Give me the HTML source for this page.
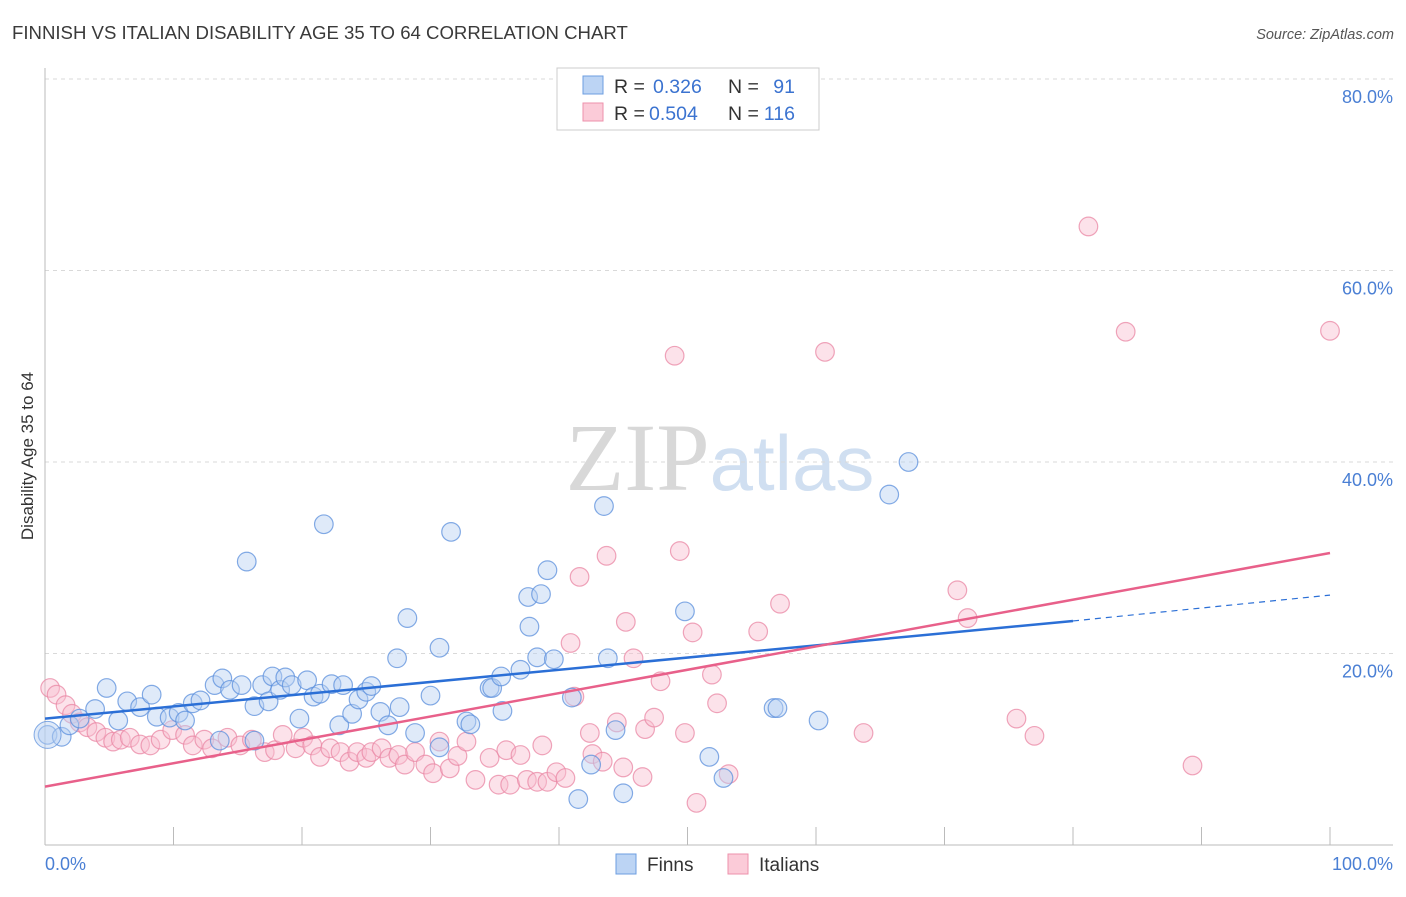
<!DOCTYPE html>
<html><head><meta charset="utf-8"><style>
body{margin:0;background:#fff;font-family:"Liberation Sans",sans-serif;}
svg text{font-family:"Liberation Sans",sans-serif;}
</style></head><body>
<svg id="chart" width="1406" height="892" xmlns="http://www.w3.org/2000/svg">
<text x="12" y="39" font-size="18.6" fill="#3a3a3a">FINNISH VS ITALIAN DISABILITY AGE 35 TO 64 CORRELATION CHART</text>
<text x="1394" y="39" font-size="14.5" fill="#555" text-anchor="end" font-style="italic">Source: ZipAtlas.com</text>
<text x="720" y="490" font-size="96" text-anchor="middle" fill="#d8d8d8" opacity="0.8"><tspan font-family="Liberation Serif" fill="#cfcfcf">ZIP</tspan><tspan fill="#c5d8ee" font-size="78">atlas</tspan></text>
<g id="grid"></g>
<g id="axes"></g>
<g id="points"></g>
<g id="trends"></g>
<text transform="translate(33,456) rotate(-90)" font-size="17" fill="#333" text-anchor="middle">Disability Age 35 to 64</text>
<text x="45" y="870" font-size="18" fill="#4a7fd4">0.0%</text>
<text x="1393" y="870" font-size="18" fill="#4a7fd4" text-anchor="end">100.0%</text>
<g>
<rect x="557" y="68" width="262" height="62" fill="#fff" stroke="#ccc"/>
<rect x="583" y="76" width="20" height="18" fill="#bcd4f4" stroke="#6c9ee0"/>
<rect x="583" y="103" width="20" height="18" fill="#fbcbd8" stroke="#ee90ab"/>
<text x="614" y="93" font-size="19.5" fill="#333">R =</text>
<text x="653" y="93" font-size="19.5" fill="#3b73d0">0.326</text>
<text x="728" y="93" font-size="19.5" fill="#333">N =</text>
<text x="795" y="93" font-size="19.5" fill="#3b73d0" text-anchor="end">91</text>
<text x="614" y="120" font-size="19.5" fill="#333">R =</text>
<text x="649" y="120" font-size="19.5" fill="#3b73d0">0.504</text>
<text x="728" y="120" font-size="19.5" fill="#333">N =</text>
<text x="795" y="120" font-size="19.5" fill="#3b73d0" text-anchor="end">116</text>
</g>
<g>
<rect x="616" y="854" width="20" height="20" fill="#bcd4f4" stroke="#6c9ee0"/>
<text x="647" y="871" font-size="19" fill="#333">Finns</text>
<rect x="728" y="854" width="20" height="20" fill="#fbcbd8" stroke="#ee90ab"/>
<text x="759" y="871" font-size="19" fill="#333">Italians</text>
</g>
</svg>
<script>
const yTicks=[20,40,60,80];
const xTickVals=[0,10,20,30,40,50,60,70,80,90,100];
const finnsX=[0.2,1.3,1.9,2.7,3.9,4.8,5.7,6.4,7.4,8.3,8.7,9.7,10.4,10.9,11.5,12.1,13.2,13.8,14.4,15.3,16.3,16.9,17.4,17.7,18.3,18.7,19.2,19.8,20.4,20.9,21.4,22.3,23.2,22.9,23.9,24.4,25.0,25.4,26.1,26.7,27.4,27.6,28.2,28.8,30.0,30.7,31.6,32.8,33.1,34.6,34.8,35.5,35.6,37.0,37.6,37.7,38.3,38.6,39.1,39.6,41.0,41.5,42.5,43.5,43.8,44.4,45.0,49.8,51.7,52.8,56.7,57.0,60.2,65.7,67.2,15.7,21.7,13.6,16.3,30.7];
const finnsY=[11.5,11.3,12.5,13.2,14.2,16.4,13.0,15.0,14.4,15.7,13.4,13.3,13.8,13.0,14.8,15.1,16.7,17.4,16.2,16.7,14.5,16.7,15.0,17.6,16.2,17.5,16.7,13.2,17.2,15.5,15.8,16.8,16.7,12.5,13.7,15.2,16.0,16.6,13.9,12.5,19.5,14.4,23.7,11.7,15.6,20.6,32.7,12.9,12.6,16.4,16.4,17.6,14.0,18.3,25.9,22.8,19.6,26.2,28.7,19.4,15.4,4.8,8.4,35.4,19.5,12.0,5.4,24.4,9.2,7.0,14.3,14.3,13.0,36.6,40.0,29.6,33.5,10.9,10.9,10.2];
const italX=[0.4,0.9,1.6,2.1,2.7,3.3,4.0,4.7,5.3,5.9,6.6,7.4,8.2,9.0,9.9,10.9,11.5,12.4,13.0,14.2,15.2,16.1,17.1,17.9,18.5,19.5,20.1,20.8,21.4,22.2,23.0,23.7,24.3,25.0,25.4,26.2,26.8,27.5,28.0,28.8,29.6,30.2,30.7,31.5,32.1,32.8,33.5,34.6,35.3,35.9,36.2,37.0,37.5,38.3,38.7,39.1,39.8,40.5,40.9,41.2,41.6,42.4,42.6,43.4,43.7,44.5,45.0,45.2,45.8,46.5,46.7,47.4,47.9,49.0,49.4,49.8,50.4,50.7,51.9,52.3,53.2,55.5,57.2,60.7,63.7,71.0,71.8,75.6,77.0,81.2,84.1,89.3,100];
const italY=[16.4,15.7,14.6,13.7,12.8,12.3,11.8,11.2,10.8,11.0,11.2,10.5,10.4,11.0,12.0,11.5,10.4,11.0,10.1,11.2,10.4,11.0,9.7,9.9,11.5,10.1,11.2,10.4,9.2,10.1,9.7,8.7,9.7,9.1,9.7,10.1,9.1,9.4,8.4,9.7,8.4,7.5,10.8,8.0,9.3,10.8,6.8,9.1,6.3,9.9,6.3,9.4,6.8,6.6,10.4,6.6,7.6,7.0,21.1,15.5,28.0,11.7,9.5,8.7,30.2,12.8,8.1,23.3,19.5,7.1,12.1,13.3,17.1,51.1,30.7,11.7,22.2,4.4,17.8,14.8,7.4,22.3,25.2,51.5,11.7,26.6,23.7,13.2,11.4,64.6,53.6,8.3,53.7];
const finnsTrend=[13.2,23.4,26.1]; // at x=0, 80, 100
const italTrend=[6.1,30.5]; // at x=0, 100
const X0=45,X1=1330,Y0=845,YPX=9.575;
function sx(v){return X0+(X1-X0)*v/100;}
function sy(v){return Y0-v*YPX;}
const NS='http://www.w3.org/2000/svg';
function mk(tag,parent,attrs){const e=document.createElementNS(NS,tag);for(const k in attrs)e.setAttribute(k,attrs[k]);document.getElementById(parent).appendChild(e);return e;}
yTicks.forEach(t=>{
 const l=mk('line','grid',{x1:45,x2:1393,y1:sy(t),y2:sy(t),stroke:'#d9d9d9','stroke-dasharray':'4,4'});
 
 
 const tx=mk('text','grid',{x:1393,y:sy(t)+24,'font-size':18,fill:'#4a7fd4','text-anchor':'end'});
 tx.textContent=t.toFixed(1)+'%';
 
 
});
let ax=mk('line','axes',{x1:45,x2:45,y1:68,y2:845,stroke:'#bbb'});


ax=mk('line','axes',{x1:45,x2:1393,y1:845,y2:845,stroke:'#bbb'});


xTickVals.forEach(t=>{
 const l=mk('line','axes',{x1:sx(t),x2:sx(t),y1:827,y2:845,stroke:'#bbb'});
 
 
});
function pts(xs,ys,fill,stroke,name){
 xs.forEach((x,i)=>{
  const c=mk('circle','points',{cx:sx(x),cy:sy(ys[i]),r:9.3,fill:fill,'fill-opacity':0.45,stroke:stroke,'stroke-width':1.2,'stroke-opacity':0.75});
  
  
 });
}
pts(italX,italY,'#f8bfd0','#ea87a4','italians-point');
pts(finnsX,finnsY,'#b8d1f2','#5b8fdc','finns-point');
const big=mk('circle','points',{cx:sx(0.2),cy:sy(11.5),r:13.5,fill:'#b8d1f2','fill-opacity':0.45,stroke:'#5b8fdc','stroke-opacity':0.75});


let t=mk('line','trends',{x1:sx(0),y1:sy(finnsTrend[0]),x2:sx(80),y2:sy(finnsTrend[1]),stroke:'#2b6fd6','stroke-width':2.5});


t=mk('line','trends',{x1:sx(80),y1:sy(finnsTrend[1]),x2:sx(100),y2:sy(finnsTrend[2]),stroke:'#2b6fd6','stroke-width':1.2,'stroke-dasharray':'6,5'});


t=mk('line','trends',{x1:sx(0),y1:sy(italTrend[0]),x2:sx(100),y2:sy(italTrend[1]),stroke:'#e8608a','stroke-width':2.5});


</script>
</body></html>
